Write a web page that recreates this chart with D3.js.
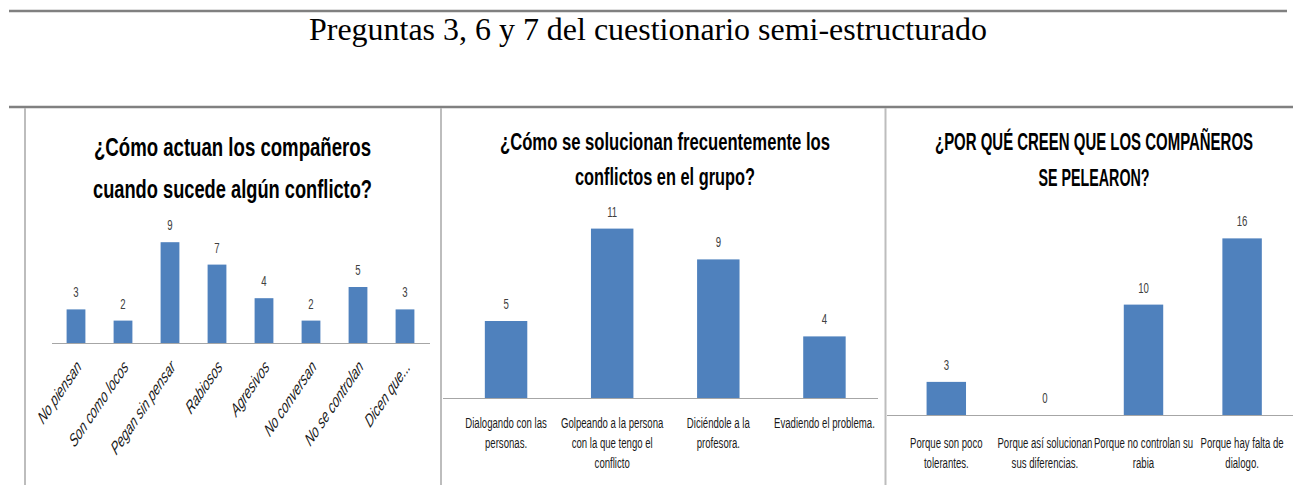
<!DOCTYPE html>
<html>
<head>
<meta charset="utf-8">
<script src="https://cdn.jsdelivr.net/npm/d3@7"></script>
<style>
  html, body { margin: 0; padding: 0; background: #fff; }
  svg { display: block; }
</style>
</head>
<body>
<div id="chart"></div>
<script>
// --- data ---
const pageTitle = "Preguntas 3, 6 y 7 del cuestionario semi-estructurado";

const title1 = ["¿Cómo actuan los compañeros", "cuando sucede algún conflicto?"];
const cats1 = ["No piensan", "Son como locos", "Pegan sin pensar", "Rabiosos", "Agresivos", "No conversan", "No se controlan", "Dicen que..."];
const vals1 = [3, 2, 9, 7, 4, 2, 5, 3];

const title2 = ["¿Cómo se solucionan frecuentemente los", "conflictos en el grupo?"];
const cats2 = ["Dialogando con las\npersonas.", "Golpeando a la persona\ncon la que tengo el\nconflicto", "Diciéndole a la\nprofesora.", "Evadiendo el problema."];
const vals2 = [5, 11, 9, 4];

const title3 = ["¿POR QUÉ CREEN QUE LOS COMPAÑEROS", "SE PELEARON?"];
const cats3 = ["Porque son poco\ntolerantes.", "Porque así solucionan\nsus diferencias.", "Porque no controlan su\nrabia", "Porque hay falta de\ndialogo."];
const vals3 = [3, 0, 10, 16];

// --- layout ---
const W = 1293, H = 485;
const barColor = "#4f81bd";
const sans = "'Liberation Sans', Arial, sans-serif";
const squeeze = 0.64;

const svg = d3.select("#chart").append("svg").attr("width", W).attr("height", H);

// page rules
svg.append("line").attr("x1", 9).attr("x2", 1287).attr("y1", 11).attr("y2", 11)
  .attr("stroke", "#808080").attr("stroke-width", 2.5);
svg.append("line").attr("x1", 9).attr("x2", 1293).attr("y1", 107).attr("y2", 107)
  .attr("stroke", "#808080").attr("stroke-width", 2.5);
[25, 441, 885.5].forEach(x => {
  svg.append("line").attr("x1", x).attr("x2", x).attr("y1", 108).attr("y2", H)
    .attr("stroke", "#bdbdbd").attr("stroke-width", 2);
});

svg.append("text")
  .attr("x", 648).attr("y", 40)
  .attr("text-anchor", "middle")
  .attr("textLength", 678).attr("lengthAdjust", "spacingAndGlyphs")
  .style("font-family", "'Liberation Serif', 'Times New Roman', serif")
  .style("font-size", "32px")
  .attr("fill", "#000")
  .text(pageTitle);

function drawChart(cfg) {
  const g = svg.append("g");

  const x = d3.scalePoint().domain(cfg.cats).range(cfg.xRange).padding(0.5);
  const bw = x.step() * 0.4;
  const y = d3.scaleLinear().domain(cfg.yDomain).range([cfg.base, cfg.top]);

  // title
  cfg.title.forEach((t, i) => {
    g.append("text")
      .attr("x", cfg.titleX).attr("y", cfg.titleY[i])
      .attr("text-anchor", "middle")
      .attr("textLength", cfg.titleW[i]).attr("lengthAdjust", "spacingAndGlyphs")
      .style("font-family", sans).style("font-weight", "bold")
      .style("font-size", cfg.titleSize + "px")
      .attr("fill", "#000")
      .text(t);
  });

  // bars
  g.selectAll("rect.bar")
    .data(cfg.vals)
    .join("rect")
      .attr("class", "bar")
      .attr("x", (d, i) => x(cfg.cats[i]) - bw / 2)
      .attr("width", bw)
      .attr("y", d => y(d))
      .attr("height", d => y(0) - y(d))
      .attr("fill", barColor);

  // baseline
  g.append("line")
    .attr("x1", cfg.axisX[0]).attr("x2", cfg.axisX[1])
    .attr("y1", y(0) + 0.5).attr("y2", y(0) + 0.5)
    .attr("stroke", "#a6a6a6").attr("stroke-width", 1);

  // value labels
  g.selectAll("text.val")
    .data(cfg.vals)
    .join("text")
      .attr("class", "val")
      .attr("text-anchor", "middle")
      .attr("transform", (d, i) => `translate(${x(cfg.cats[i])},${y(d) - 12}) scale(${squeeze},1)`)
      .style("font-family", sans).style("font-size", "15px")
      .attr("fill", "#404040")
      .text(d => d);

  // category labels
  if (cfg.rotate) {
    g.selectAll("text.cat")
      .data(cfg.cats)
      .join("text")
        .attr("class", "cat")
        .attr("text-anchor", "end")
        .attr("transform", d => `translate(${x(d) + 6},${y(0) + 25}) scale(0.68,1) rotate(-45) scale(0.84,1)`)
        .style("font-family", sans).style("font-style", "italic").style("font-size", "19px")
        .attr("fill", "#1a1a1a")
        .text(d => d);
  } else {
    const cat = g.selectAll("text.cat")
      .data(cfg.cats)
      .join("text")
        .attr("class", "cat")
        .attr("text-anchor", "middle")
        .attr("transform", d => `translate(${x(d)},${y(0) + cfg.labelDy}) scale(${squeeze},1)`)
        .style("font-family", sans).style("font-size", "15px")
        .attr("fill", "#1a1a1a");
    cat.selectAll("tspan")
      .data(d => d.split("\n"))
      .join("tspan")
        .attr("x", 0)
        .attr("dy", (d, i) => i === 0 ? 0 : 20)
        .text(d => d);
  }
}

drawChart({
  title: title1, titleX: 232.5, titleY: [156, 198], titleW: [277, 279], titleSize: 26,
  cats: cats1, vals: vals1,
  xRange: [52.5, 428.5], axisX: [52, 430],
  yDomain: [0, 10], base: 343, top: 231,
  rotate: true
});

drawChart({
  title: title2, titleX: 665, titleY: [150, 185], titleW: [330, 180], titleSize: 23,
  cats: cats2, vals: vals2,
  xRange: [453, 877.5], axisX: [443, 878],
  yDomain: [0, 12], base: 398, top: 213.2,
  labelDy: 30
});

drawChart({
  title: title3, titleX: 1094, titleY: [150, 186], titleW: [318, 111], titleSize: 23,
  cats: cats3, vals: vals3,
  xRange: [897, 1291.4], axisX: [887, 1293],
  yDomain: [0, 18], base: 415, top: 216.3,
  labelDy: 33
});
</script>
</body>
</html>
